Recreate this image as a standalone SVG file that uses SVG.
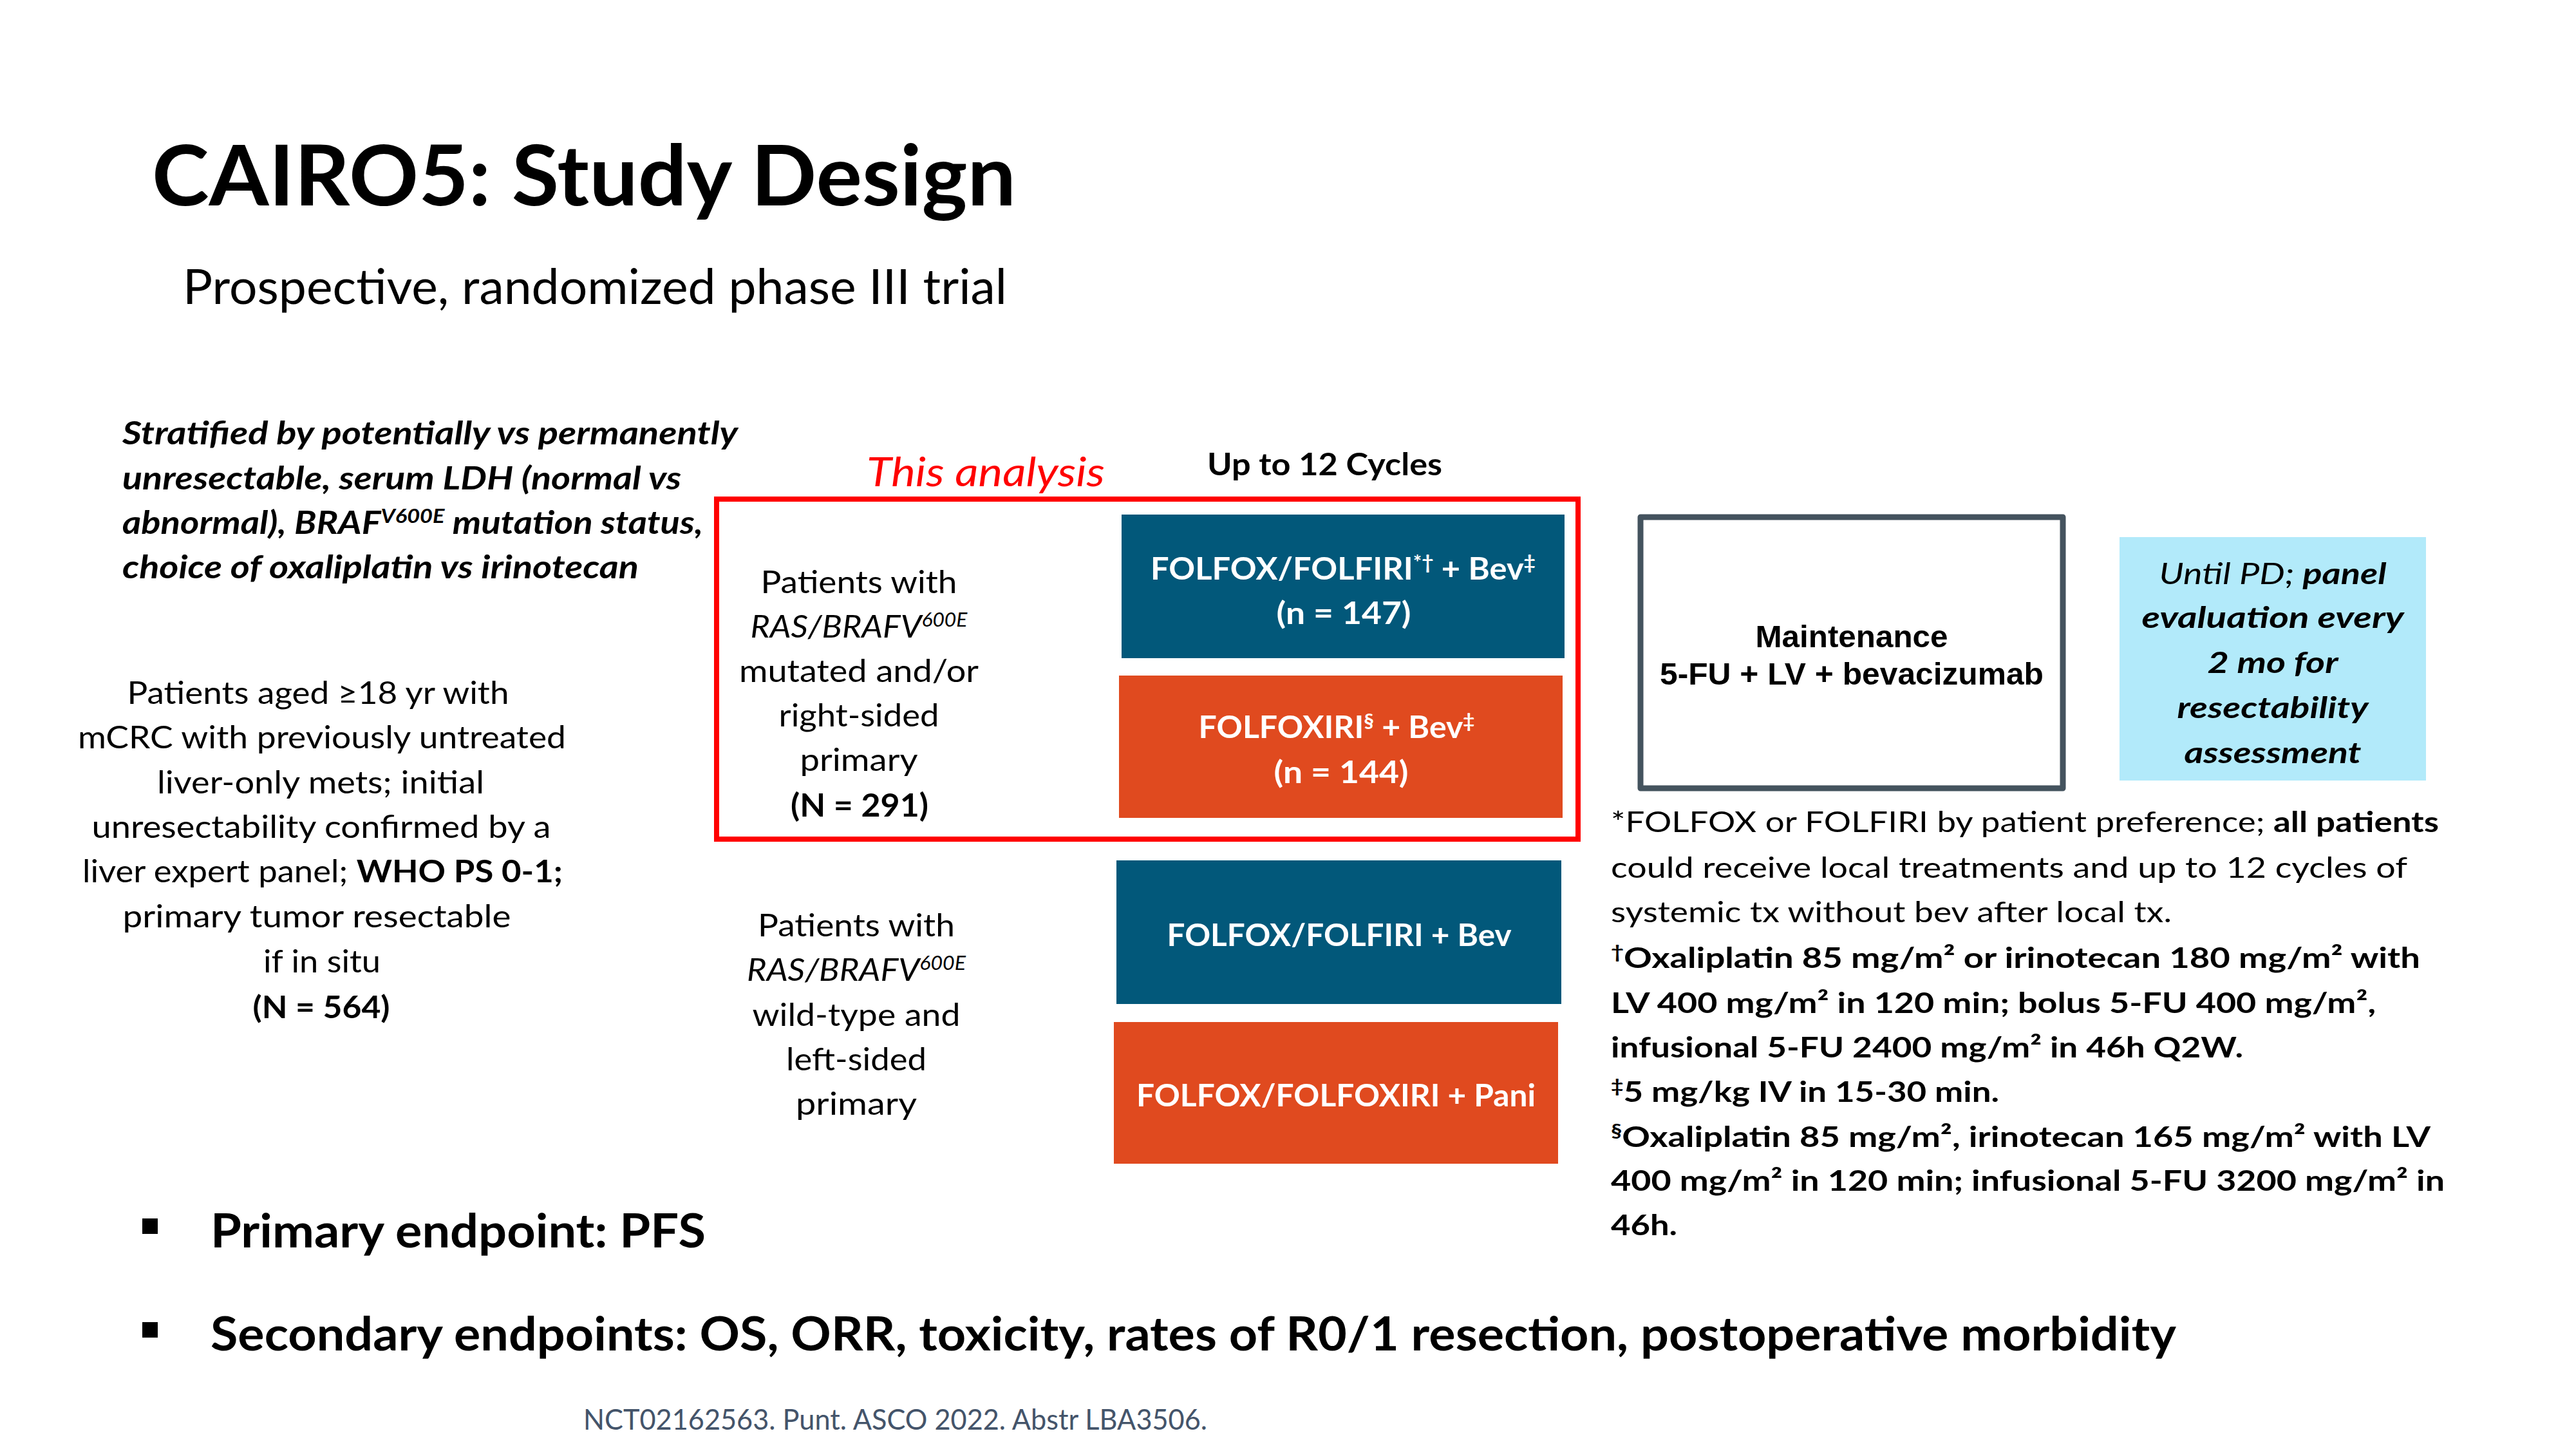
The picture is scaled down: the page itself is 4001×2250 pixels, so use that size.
<svg xmlns="http://www.w3.org/2000/svg" width="4001" height="2250" viewBox="0 0 4001 2250">
<style>
text{font-family:Lato,"Open Sans","Liberation Sans",sans-serif;fill:#000}
.b{font-weight:700}
.i{font-style:italic}
.m{text-anchor:middle}
.w{fill:#fff}
.ar{font-family:"Liberation Sans",Arial,sans-serif;font-weight:700}
.teal{fill:#02587A}
.org{fill:#E04A1F}
</style>
<rect width="4001" height="2250" fill="#fff"/>
<g id="title">
<text x="236" y="319" class="b" font-size="131" textLength="1342" lengthAdjust="spacingAndGlyphs">CAIRO5: Study Design</text>
<text x="284" y="472" font-size="75" textLength="1280" lengthAdjust="spacingAndGlyphs">Prospective, randomized phase III trial</text>
</g>
<g id="stratification" font-size="49">
<text x="190" y="690" class="b i" textLength="956" lengthAdjust="spacingAndGlyphs">Stratified by potentially vs permanently</text>
<text x="190" y="760" class="b i" textLength="868" lengthAdjust="spacingAndGlyphs">unresectable, serum LDH (normal vs</text>
<text x="190" y="829" class="b i" textLength="902" lengthAdjust="spacingAndGlyphs">abnormal), BRAF<tspan font-size="30" dy="-17">V600E</tspan><tspan dy="17"> mutation status,</tspan></text>
<text x="190" y="898" class="b i" textLength="802" lengthAdjust="spacingAndGlyphs">choice of oxaliplatin vs irinotecan</text>
</g>
<g id="population" font-size="48">
<text x="494" y="1093" class="m" textLength="593" lengthAdjust="spacingAndGlyphs">Patients aged ≥18 yr with</text>
<text x="500" y="1162" class="m" textLength="758" lengthAdjust="spacingAndGlyphs">mCRC with previously untreated</text>
<text x="498" y="1232" class="m" textLength="508" lengthAdjust="spacingAndGlyphs">liver-only mets; initial</text>
<text x="499" y="1301" class="m" textLength="713" lengthAdjust="spacingAndGlyphs">unresectability confirmed by a</text>
<text x="501" y="1370" class="m" textLength="746" lengthAdjust="spacingAndGlyphs">liver expert panel; <tspan class="b">WHO PS 0-1;</tspan></text>
<text x="492" y="1440" class="m" textLength="603" lengthAdjust="spacingAndGlyphs">primary tumor resectable</text>
<text x="500" y="1510" class="m" textLength="182" lengthAdjust="spacingAndGlyphs">if in situ</text>
<text x="499" y="1581" class="m b" textLength="213" lengthAdjust="spacingAndGlyphs">(N = 564)</text>
</g>
<g id="this-analysis">
<rect x="1113" y="775" width="1338" height="528" fill="none" stroke="#FF0000" stroke-width="8"/>
<text x="1346" y="755" class="i" font-size="63" fill="#FF0000" style="fill:#FF0000" textLength="370" lengthAdjust="spacingAndGlyphs">This analysis</text>
</g>
<g id="cycles-label">
<text x="1875" y="738" class="b" font-size="47" textLength="365" lengthAdjust="spacingAndGlyphs">Up to 12 Cycles</text>
</g>
<g id="mutated-group" font-size="49">
<text x="1334" y="921" class="m" textLength="305" lengthAdjust="spacingAndGlyphs">Patients with</text>
<text x="1334" y="990" class="m i" textLength="337" lengthAdjust="spacingAndGlyphs">RAS/BRAFV<tspan font-size="30" dy="-17">600E</tspan></text>
<text x="1334" y="1059" class="m" textLength="372" lengthAdjust="spacingAndGlyphs">mutated and/or</text>
<text x="1334" y="1128" class="m" textLength="249" lengthAdjust="spacingAndGlyphs">right-sided</text>
<text x="1334" y="1197" class="m" textLength="183" lengthAdjust="spacingAndGlyphs">primary</text>
<text x="1335" y="1268" class="m b" textLength="214" lengthAdjust="spacingAndGlyphs">(N = 291)</text>
</g>
<g id="arm-folfox-bev" font-size="48">
<rect class="teal" x="1742" y="799" width="688" height="223"/>
<text x="2086" y="900" class="m b w" textLength="598" lengthAdjust="spacingAndGlyphs">FOLFOX/FOLFIRI<tspan font-size="30" dy="-16">*†</tspan><tspan dy="16"> + Bev</tspan><tspan font-size="30" dy="-16">‡</tspan></text>
<text x="2087" y="969" class="m b w" textLength="209" lengthAdjust="spacingAndGlyphs">(n = 147)</text>
</g>
<g id="arm-folfoxiri-bev" font-size="48">
<rect class="org" x="1738" y="1049" width="689" height="221"/>
<text x="2076" y="1146" class="m b w" textLength="429" lengthAdjust="spacingAndGlyphs">FOLFOXIRI<tspan font-size="30" dy="-16">§</tspan><tspan dy="16"> + Bev</tspan><tspan font-size="30" dy="-16">‡</tspan></text>
<text x="2083" y="1216" class="m b w" textLength="209" lengthAdjust="spacingAndGlyphs">(n = 144)</text>
</g>
<g id="wildtype-group" font-size="49">
<text x="1330" y="1454" class="m" textLength="306" lengthAdjust="spacingAndGlyphs">Patients with</text>
<text x="1330" y="1523" class="m i" textLength="340" lengthAdjust="spacingAndGlyphs">RAS/BRAFV<tspan font-size="30" dy="-17">600E</tspan></text>
<text x="1330" y="1593" class="m" textLength="323" lengthAdjust="spacingAndGlyphs">wild-type and</text>
<text x="1330" y="1662" class="m" textLength="218" lengthAdjust="spacingAndGlyphs">left-sided</text>
<text x="1330" y="1731" class="m" textLength="188" lengthAdjust="spacingAndGlyphs">primary</text>
</g>
<g id="arm-folfox-bev-wt" font-size="48">
<rect class="teal" x="1734" y="1336" width="691" height="223"/>
<text x="2080" y="1469" class="m b w" textLength="535" lengthAdjust="spacingAndGlyphs">FOLFOX/FOLFIRI + Bev</text>
</g>
<g id="arm-folfox-pani" font-size="48">
<rect class="org" x="1730" y="1587" width="690" height="220"/>
<text x="2075" y="1718" class="m b w" textLength="620" lengthAdjust="spacingAndGlyphs">FOLFOX/FOLFOXIRI + Pani</text>
</g>
<g id="maintenance">
<rect x="2548" y="803" width="656" height="421" fill="#fff" stroke="#44535E" stroke-width="9" stroke-linejoin="round"/>
<text x="2876" y="1005" class="m ar" font-size="49" textLength="299" lengthAdjust="spacingAndGlyphs">Maintenance</text>
<text x="2876" y="1063" class="m ar" font-size="49" textLength="596" lengthAdjust="spacingAndGlyphs">5-FU + LV + bevacizumab</text>
</g>
<g id="evaluation" font-size="46">
<rect x="3292" y="834" width="476" height="378" fill="#B2EAFA"/>
<text x="3530" y="907" class="m i" textLength="353" lengthAdjust="spacingAndGlyphs">Until PD; <tspan class="b">panel</tspan></text>
<text x="3530" y="975" class="m i b" textLength="407" lengthAdjust="spacingAndGlyphs">evaluation every</text>
<text x="3530" y="1045" class="m i b" textLength="203" lengthAdjust="spacingAndGlyphs">2 mo for</text>
<text x="3530" y="1115" class="m i b" textLength="297" lengthAdjust="spacingAndGlyphs">resectability</text>
<text x="3530" y="1185" class="m i b" textLength="275" lengthAdjust="spacingAndGlyphs">assessment</text>
</g>
<g id="footnotes" font-size="44">
<text x="2502" y="1292" textLength="1286" lengthAdjust="spacingAndGlyphs">*FOLFOX or FOLFIRI by patient preference; <tspan class="b">all patients</tspan></text>
<text x="2502" y="1363" textLength="1237" lengthAdjust="spacingAndGlyphs">could receive local treatments and up to 12 cycles of</text>
<text x="2502" y="1432" textLength="871" lengthAdjust="spacingAndGlyphs">systemic tx without bev after local tx.</text>
<text x="2502" y="1503" class="b" textLength="1257" lengthAdjust="spacingAndGlyphs"><tspan font-size="28" dy="-15">†</tspan><tspan dy="15">Oxaliplatin 85 mg/m² or irinotecan 180 mg/m² with</tspan></text>
<text x="2502" y="1573" class="b" textLength="1188" lengthAdjust="spacingAndGlyphs">LV 400 mg/m² in 120 min; bolus 5-FU 400 mg/m²,</text>
<text x="2502" y="1642" class="b" textLength="982" lengthAdjust="spacingAndGlyphs">infusional 5-FU 2400 mg/m² in 46h Q2W.</text>
<text x="2502" y="1711" class="b" textLength="603" lengthAdjust="spacingAndGlyphs"><tspan font-size="28" dy="-15">‡</tspan><tspan dy="15">5 mg/kg IV in 15-30 min.</tspan></text>
<text x="2502" y="1781" class="b" textLength="1273" lengthAdjust="spacingAndGlyphs"><tspan font-size="28" dy="-15">§</tspan><tspan dy="15">Oxaliplatin 85 mg/m², irinotecan 165 mg/m² with LV</tspan></text>
<text x="2502" y="1849" class="b" textLength="1295" lengthAdjust="spacingAndGlyphs">400 mg/m² in 120 min; infusional 5-FU 3200 mg/m² in</text>
<text x="2502" y="1918" class="b" textLength="103" lengthAdjust="spacingAndGlyphs">46h.</text>
</g>
<g id="endpoints">
<rect x="221" y="1892" width="24" height="24" fill="#000"/>
<text x="327" y="1937" class="b" font-size="73" textLength="769" lengthAdjust="spacingAndGlyphs">Primary endpoint: PFS</text>
<rect x="221" y="2053" width="24" height="24" fill="#000"/>
<text x="327" y="2097" class="b" font-size="73" textLength="3053" lengthAdjust="spacingAndGlyphs">Secondary endpoints: OS, ORR, toxicity, rates of R0/1 resection, postoperative morbidity</text>
</g>
<g id="citation">
<text x="906" y="2220" font-size="44" style="fill:#44546A" textLength="969" lengthAdjust="spacingAndGlyphs">NCT02162563. Punt. ASCO 2022. Abstr LBA3506.</text>
</g>
</svg>
